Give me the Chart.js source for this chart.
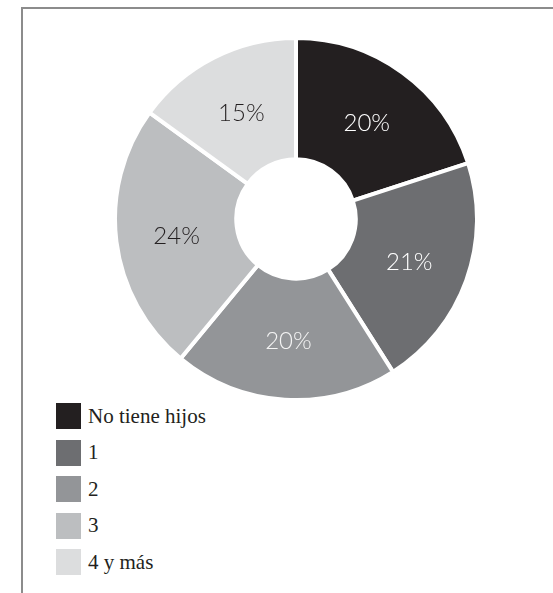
<!DOCTYPE html>
<html>
<head>
<meta charset="utf-8">
<script src="https://cdn.jsdelivr.net/npm/chart.js@4.4.1/dist/chart.umd.min.js"></script>
<style>
  html, body { margin: 0; padding: 0; background: #fff; }
  body { width: 553px; height: 593px; position: relative; overflow: hidden; }
  #frame { position: absolute; left: 21px; top: 7px; width: 600px; height: 700px;
           border-top: 2px solid #8c8c8c; border-left: 2px solid #8c8c8c; }
  #wrap { position: absolute; left: 113px; top: 36px; width: 366px; height: 366px; }
  #legend { position: absolute; left: 56px; top: 403px; margin: 0; padding: 0; list-style: none; }
  #legend li { height: 26px; margin-bottom: 10.5px; display: flex; align-items: center;
               font-family: "Liberation Serif", serif; font-size: 21px; color: #231f20; }
  #legend span.box { width: 25px; height: 26px; margin-right: 7px; display: inline-block; }
</style>
</head>
<body>
<div id="frame"></div>
<div id="wrap"><canvas id="myChart"></canvas></div>
<ul id="legend"></ul>
<script>
  var categorias = ["No tiene hijos", "1", "2", "3", "4 y más"];
  var porcentajes = [20, 21, 20, 24, 15];
  var colores = ['#231f20', '#6d6e71', '#939598', '#bcbec0', '#dcddde'];
  var coloresTexto = ['#ffffff', '#ffffff', '#f4f4f4', '#231f20', '#231f20'];

  // dibuja el % en el centro de cada sector
  var etiquetas = {
    id: 'etiquetas',
    afterDatasetsDraw: function (chart) {
      var ctx = chart.ctx;
      var meta = chart.getDatasetMeta(0);
      ctx.save();
      ctx.font = '300 24px Lato';
      ctx.textAlign = 'center';
      ctx.textBaseline = 'middle';
      meta.data.forEach(function (arco, i) {
        var p = arco.tooltipPosition();
        ctx.fillStyle = coloresTexto[i];
        ctx.fillText(porcentajes[i] + '%', p.x, p.y + 2);
      });
      ctx.restore();
    }
  };

  var ctx = document.getElementById('myChart').getContext('2d');
  var chart = new Chart(ctx, {
    type: 'doughnut',
    data: {
      labels: categorias,
      datasets: [{
        data: porcentajes,
        backgroundColor: colores,
        borderColor: '#ffffff',
        borderWidth: 4
      }]
    },
    options: {
      responsive: true,
      maintainAspectRatio: false,
      animation: false,
      cutout: '33%',
      layout: { padding: 0 },
      plugins: {
        legend: { display: false },
        tooltip: { enabled: false }
      }
    },
    plugins: [etiquetas]
  });

  // leyenda vertical a partir de los datos del grafico
  var ul = document.getElementById('legend');
  chart.options.plugins.legend.labels.generateLabels(chart).forEach(function (item) {
    var li = document.createElement('li');
    var box = document.createElement('span');
    box.className = 'box';
    box.style.background = item.fillStyle;
    li.appendChild(box);
    li.appendChild(document.createTextNode(item.text));
    ul.appendChild(li);
  });
</script>
</body>
</html>
